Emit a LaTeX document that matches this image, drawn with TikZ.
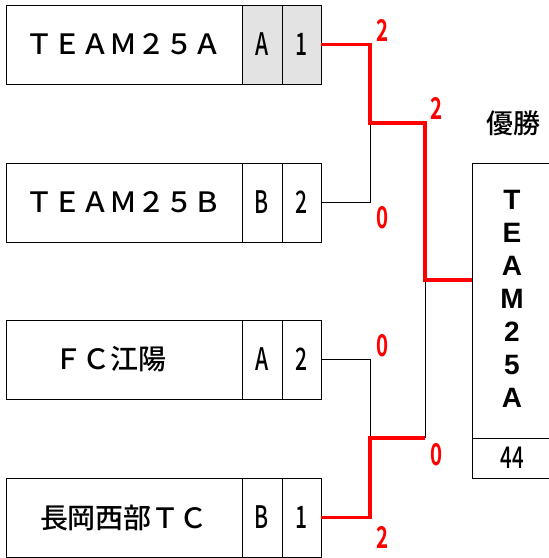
\documentclass[tikz,border=0pt]{standalone}
\usepackage{fontspec}
\setmainfont{Noto Sans CJK JP Medium}[BoldFont={Noto Sans CJK JP Bold}]
\newfontfamily\winfont{Liberation Sans}[BoldFont={Liberation Sans Bold}]
\begin{document}
\begin{tikzpicture}[x=1pt,y=-1pt,
  cellbox/.style={draw, line width=1pt, minimum height=79pt, inner sep=0pt, anchor=north west, outer sep=0pt},
  namecell/.style={cellbox, minimum width=236pt, font=\fontsize{28}{30}\selectfont},
  grpcell/.style={cellbox, minimum width=40pt, font=\fontsize{31}{33}\selectfont},
  ptcell/.style={cellbox, minimum width=39pt, font=\fontsize{31}{33}\selectfont},
  shade/.style={fill=gray!22},
  win/.style={draw=red, line width=3.5pt},
  lose/.style={draw=black, line width=1pt},
  scorelbl/.style={text=red, font=\bfseries\fontsize{30}{30}\selectfont, inner sep=0pt}
]
\useasboundingbox (0,0) rectangle (549,558);
% team rows
\node[namecell] (n1) at (6,5) {ＴＥＡＭ２５Ａ};
\node[grpcell,shade] (g1) at (242,5) {\scalebox{0.68}[1]{A}};
\node[ptcell,shade] (s1) at (282,5) {\scalebox{0.68}[1]{1}};
\node[namecell] (n2) at (6,163) {ＴＥＡＭ２５Ｂ};
\node[grpcell] (g2) at (242,163) {\scalebox{0.68}[1]{B}};
\node[ptcell] (s2) at (282,163) {\scalebox{0.68}[1]{2}};
\node[namecell] (n3) at (6,320) {\hspace*{-28pt}ＦＣ江陽};
\node[grpcell] (g3) at (242,320) {\scalebox{0.68}[1]{A}};
\node[ptcell] (s3) at (282,320) {\scalebox{0.68}[1]{2}};
\node[namecell] (n4) at (6,478) {長岡西部ＴＣ};
\node[grpcell] (g4) at (242,478) {\scalebox{0.68}[1]{B}};
\node[ptcell] (s4) at (282,478) {\scalebox{0.68}[1]{1}};
% winner box
\node[draw, line width=1pt, anchor=north west, minimum width=100pt, minimum height=275pt, inner sep=0pt] (w) at (472,163) {};
\node[draw, line width=1pt, anchor=north west, minimum width=100pt, minimum height=40pt, inner sep=0pt] (wn) at (472,438) {};
\node[font=\fontsize{30}{32}\selectfont] (wt) at (512,458) {\scalebox{0.68}[1]{44}};
\node[font=\winfont\bfseries\fontsize{28}{33}\selectfont, align=center, inner sep=0pt] (wname) at (512,299) {T\\E\\A\\M\\2\\5\\A};
\node[font=\fontsize{27}{28}\selectfont] (yu) at (513,123) {優勝};
% junctions
\coordinate (m1) at (370,123);
\coordinate (m2) at (370,438);
\coordinate (f) at (425,280);
% losing lines
\draw[lose] (s2.east) -| (m1);
\draw[lose] (s3.east) -| (m2);
\draw[lose] (m2 -| f) -- (f);
% winning lines
\draw[win] (s1.east) -| (m1) -| (f) -- (f -| w.west);
\draw[win] (s4.east) -| (m2) -- (m2 -| f);
% scores
\node[scorelbl] (c1) at (383,30) {\scalebox{0.68}[1]{2}};
\node[scorelbl] (c2) at (383,218) {\scalebox{0.68}[1]{0}};
\node[scorelbl] (c3) at (383,346) {\scalebox{0.68}[1]{0}};
\node[scorelbl] (c4) at (383,537) {\scalebox{0.68}[1]{2}};
\node[scorelbl] (c5) at (437,108) {\scalebox{0.68}[1]{2}};
\node[scorelbl] (c6) at (437,455) {\scalebox{0.68}[1]{0}};
\end{tikzpicture}
\end{document}
